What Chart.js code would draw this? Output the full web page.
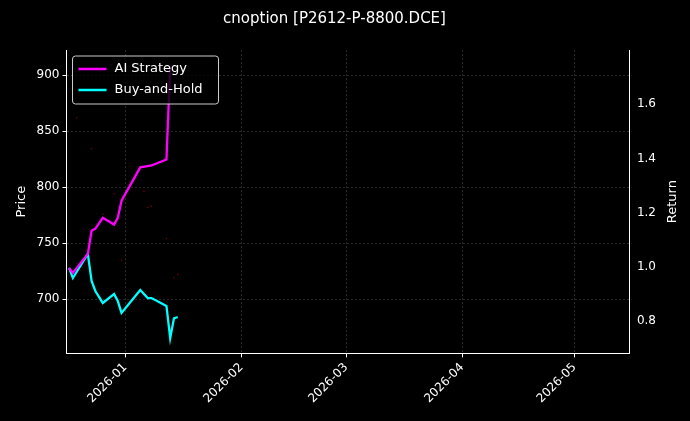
<!DOCTYPE html>
<html><head>
<script src="https://cdn.jsdelivr.net/npm/chart.js@4"></script>
<style>body{margin:0;background:#000}canvas{display:block}</style>
</head><body>
<canvas id="c" width="690" height="421"></canvas>
<script>
// data
const dates = ['2025-12-17','2025-12-18','2025-12-22','2025-12-23','2025-12-24','2025-12-26','2025-12-29','2025-12-30','2025-12-31','2026-01-05','2026-01-07','2026-01-08','2026-01-12','2026-01-13','2026-01-14','2026-01-15'];
const aiStrategy = [0.996,0.978,1.048,1.133,1.141,1.181,1.156,1.181,1.244,1.367,1.372,1.374,1.396,1.74,null,null];
const buyHold = [0.996,0.959,1.048,0.948,0.911,0.867,0.900,0.874,0.830,0.915,0.885,0.885,0.856,0.737,0.810,0.815];
const priceDates = ['2025-12-19','2025-12-23','2025-12-26','2025-12-29','2025-12-31','2026-01-06','2026-01-07','2026-01-08','2026-01-12','2026-01-14','2026-01-15'];
const prices = [862,834,776,794,735,796,782,783,754,719,722];
const monthTicks = ['2026-01-01','2026-02-01','2026-03-01','2026-04-01','2026-05-01'];
const priceTicks = [700,750,800,850,900];
const returnTicks = [0.8,1.0,1.2,1.4,1.6];

const t = s => Date.parse(s + 'T00:00:00Z');
const DAY = 86400000;
const pts = (ds, vs) => ds.map((d,i)=>({x:t(d), y:vs[i]}));
const fmt = v => { const d=new Date(v); return d.getUTCFullYear()+'-'+String(d.getUTCMonth()+1).padStart(2,'0'); };

const bg = { id:'bg', beforeDraw(c){ const x=c.ctx; x.save(); x.fillStyle='#000'; x.fillRect(0,0,c.width,c.height); x.restore(); } };
const extras = { id:'extras', afterDraw(c){
  const x=c.ctx, a=c.chartArea, L=a.left+6, T=a.top+6;
  x.save();
  // right axis title, reading bottom to top
  x.fillStyle='#fff'; x.font='13px "DejaVu Sans"'; x.textAlign='center'; x.textBaseline='middle';
  x.translate(673,(a.top+a.bottom)/2); x.rotate(-Math.PI/2); x.fillText('Return',0,0);
  x.restore(); x.save();
  x.fillStyle='rgba(0,0,0,0.8)'; x.strokeStyle='#ccc'; x.lineWidth=1;
  x.beginPath(); x.roundRect(L,T,146,48,3); x.fill(); x.stroke();
  x.font='13px "DejaVu Sans"'; x.textBaseline='middle'; x.lineWidth=2.5;
  [['AI Strategy','#ff00ff'],['Buy-and-Hold','#00ffff']].forEach(([n,col],i)=>{
    const yy=T+13+i*21;
    x.strokeStyle=col; x.beginPath(); x.moveTo(L+6,yy); x.lineTo(L+34,yy); x.stroke();
    x.fillStyle='#fff'; x.fillText(n,L+42,yy);
  });
  x.restore();
}};

const grid = {color:'rgba(150,150,150,0.45)', lineWidth:0.6, tickLength:4, tickColor:'#fff', tickWidth:1};
const border = {color:'#fff', dash:[2,2]};
new Chart(document.getElementById('c'), {
  type:'line',
  data:{ datasets:[
    {label:'Price', type:'scatter', data:pts(priceDates,prices), yAxisID:'y', pointRadius:0.8, backgroundColor:'rgba(200,0,0,0.6)', borderWidth:0},
    {label:'AI Strategy', data:pts(dates,aiStrategy), yAxisID:'y1', borderColor:'#ff00ff', borderWidth:2.3, pointRadius:0, tension:0, spanGaps:false},
    {label:'Buy-and-Hold', data:pts(dates,buyHold), yAxisID:'y1', borderColor:'#00ffff', borderWidth:2.3, pointRadius:0, tension:0}
  ]},
  options:{
    responsive:false, animation:false,
    layout:{padding:{left:10,right:31,top:4,bottom:12}},
    plugins:{ legend:{display:false}, tooltip:{enabled:false},
      title:{display:true, text:'cnoption [P2612-P-8800.DCE]', color:'#fff', font:{size:15,family:'DejaVu Sans',weight:'normal'}, padding:{top:6,bottom:22}} },
    scales:{
      x:{ type:'linear', min:t('2025-12-17')-0.7*DAY, max:t('2026-05-15')+0.8*DAY,
        afterBuildTicks: ax => { ax.ticks = monthTicks.map(m=>({value:t(m)})); },
        ticks:{ color:'#fff', font:{size:12,family:'DejaVu Sans'}, maxRotation:45, minRotation:45, callback:v=>fmt(v) },
        grid:grid, border:border },
      y:{ position:'left', min:651.5, max:922.5,
        afterBuildTicks: ax => { ax.ticks = priceTicks.map(v=>({value:v})); },
        ticks:{ color:'#fff', font:{size:12,family:'DejaVu Sans'} },
        title:{display:true, text:'Price', color:'#fff', font:{size:13,family:'DejaVu Sans'}},
        grid:grid, border:border },
      y1:{ position:'right', min:0.681, max:1.8,
        afterBuildTicks: ax => { ax.ticks = returnTicks.map(v=>({value:v})); },
        ticks:{ color:'#fff', font:{size:12,family:'DejaVu Sans'}, callback:v=>v.toFixed(1) },
        grid:{display:false, tickLength:4}, border:{color:'#fff'} }
    }
  },
  plugins:[bg, extras]
});
</script>
</body></html>
